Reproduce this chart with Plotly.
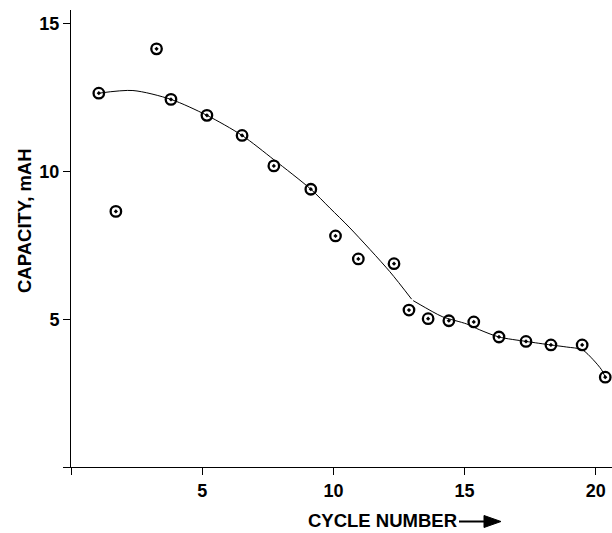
import plotly.graph_objects as go

# ---- data ----
cycle = [1.06, 1.71, 3.26, 3.81, 5.18, 6.52, 7.73, 9.14, 10.08, 10.95,
         12.31, 12.88, 13.61, 14.40, 15.35, 16.31, 17.34, 18.29, 19.48, 20.36]
capacity = [12.65, 8.65, 14.15, 12.44, 11.90, 11.22, 10.19, 9.40, 7.82, 7.04,
            6.88, 5.31, 5.02, 4.95, 4.91, 4.40, 4.25, 4.13, 4.13, 3.04]

# fitted curve (two pieces, meeting with a kink near cycle 13)
fit_upper_x = [1.06, 2.36, 3.81, 5.18, 6.52, 7.73, 9.14, 9.87, 10.63, 12.15, 12.98]
fit_upper_y = [12.65, 12.74, 12.44, 11.90, 11.22, 10.40, 9.40, 8.76, 8.09, 6.61, 5.68]
fit_lower_x = [13.04, 13.79, 14.17, 15.08, 15.58, 16.31, 17.34, 18.29, 18.89, 19.48, 19.90, 20.22, 20.36]
fit_lower_y = [5.63, 5.25, 5.08, 4.84, 4.64, 4.40, 4.25, 4.13, 4.06, 3.97, 3.63, 3.29, 3.04]

x_ticks = [0, 5, 10, 15, 20]
x_ticktext = ["", "5", "10", "15", "20"]
y_ticks = [0, 5, 10, 15]
y_ticktext = ["", "5", "10", "15"]

FONT = "Arial, Liberation Sans, Helvetica, sans-serif"
W, H = 612, 533
ML, MR, MT, MB = 71, 0, 10, 66
PW, PH = W - ML - MR, H - MT - MB


def px(xp):  # pixel x -> paper x
    return (xp - ML) / PW


def py(yp):  # pixel y -> paper y
    return (H - MB - yp) / PH


fig = go.Figure()
fig.add_trace(go.Scatter(x=fit_upper_x, y=fit_upper_y, mode="lines",
                         line=dict(color="black", width=1, shape="spline", smoothing=0.8),
                         hoverinfo="skip", showlegend=False))
fig.add_trace(go.Scatter(x=fit_lower_x, y=fit_lower_y, mode="lines",
                         line=dict(color="black", width=1, shape="spline", smoothing=0.8),
                         hoverinfo="skip", showlegend=False))
fig.add_trace(go.Scatter(x=cycle, y=capacity, mode="markers",
                         marker=dict(symbol="circle-open-dot", size=10.5, color="black",
                                     line=dict(color="black", width=2.3)),
                         cliponaxis=False, showlegend=False))

axis_common = dict(showline=True, linecolor="black", linewidth=1, ticks="outside",
                   ticklen=7, tickwidth=1, tickcolor="black", showgrid=False,
                   zeroline=False, tickfont=dict(family=FONT, size=18, color="black", weight="bold"))

fig.update_layout(
    width=W, height=H, autosize=False,
    margin=dict(l=ML, r=MR, t=MT, b=MB, pad=0),
    plot_bgcolor="white", paper_bgcolor="white",
    xaxis=dict(range=[0, PW / 26.24], tickvals=x_ticks, ticktext=x_ticktext, **axis_common),
    yaxis=dict(range=[0, PH / 29.55], tickvals=y_ticks, ticktext=y_ticktext, **axis_common),
    annotations=[
        dict(text="CAPACITY, mAH", textangle=-90, x=px(24), y=py(221),
             xref="paper", yref="paper", showarrow=False, xanchor="center", yanchor="middle",
             font=dict(family=FONT, size=18.5, color="black", weight="bold")),
        dict(text="CYCLE NUMBER", x=px(382), y=py(532.5),
             xref="paper", yref="paper", showarrow=False, xanchor="center", yanchor="bottom",
             font=dict(family=FONT, size=18.5, color="black", weight="bold")),
    ],
    shapes=[
        dict(type="line", xref="paper", yref="paper", x0=px(459), x1=px(486),
             y0=py(521.5), y1=py(521.5), line=dict(color="black", width=2)),
        dict(type="path", xref="paper", yref="paper",
             path=f"M{px(501)},{py(521.5)} L{px(484)},{py(515.5)} L{px(484)},{py(527.5)} Z",
             fillcolor="black", line=dict(color="black", width=1)),
    ],
)

fig.write_html("out.html")
